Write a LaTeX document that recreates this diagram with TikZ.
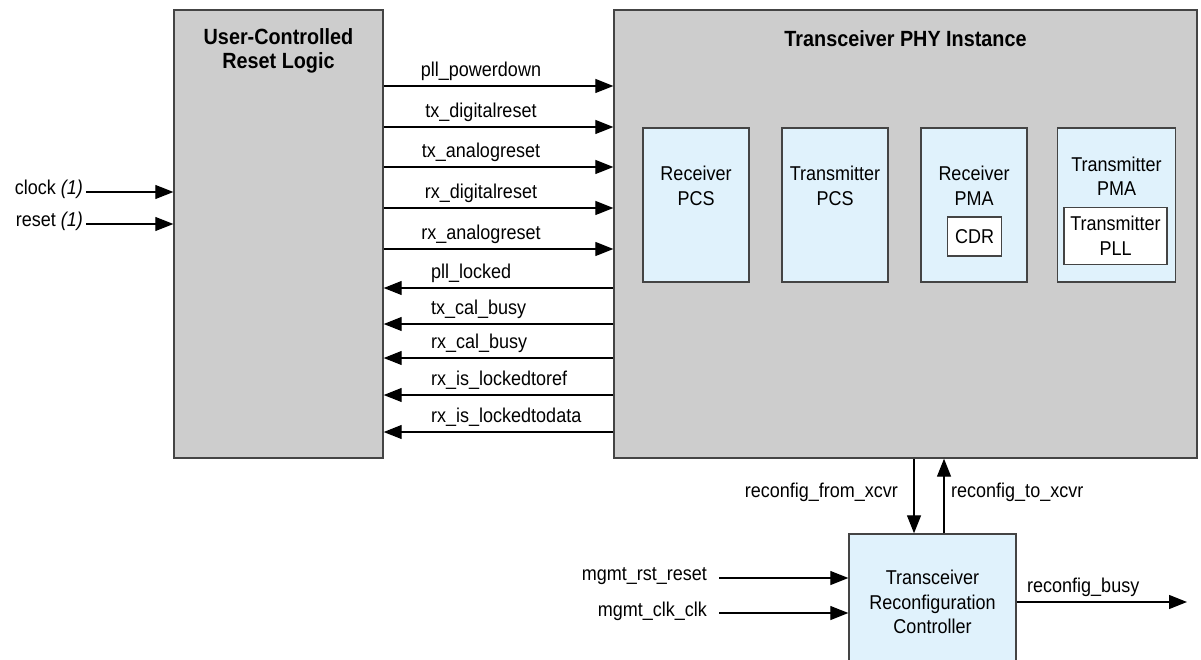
\documentclass[tikz,border=0pt]{standalone}
\usepackage{fontspec}
\setmainfont[FakeStretch=0.9]{Liberation Sans}
\usetikzlibrary{arrows.meta,positioning}
\definecolor{boxgray}{HTML}{CDCDCD}
\definecolor{boxblue}{HTML}{E0F2FC}
\definecolor{edge}{HTML}{444444}
\tikzset{
  every node/.style={font=\fontsize{20}{24.5}\selectfont, inner sep=0pt},
  bigbox/.style={draw=edge, line width=1.4pt, fill=boxgray},
  bluebox/.style={draw=edge, line width=1.4pt, fill=boxblue},
  whitebox/.style={draw=edge, line width=1.2pt, fill=white},
  sig/.style={line width=1.3pt, -{Triangle[length=18pt,width=14pt]}},
  lbl/.style={font=\fontsize{20}{23}\selectfont},
  ttl/.style={font=\fontsize{22}{24}\selectfont\bfseries, align=center},
}
\begin{document}
\begin{tikzpicture}[x=1pt,y=-1pt]
\useasboundingbox (0,0) rectangle (1201,660);
% main boxes
\node[bigbox, minimum width=209pt, minimum height=448pt] (L) at (278.5,234) {};
\node[ttl, anchor=center] (Lt) at (278.5,51) {User-Controlled\\Reset Logic};
\node[bigbox, minimum width=583pt, minimum height=448pt] (R) at (905.5,234) {};
\node[ttl, anchor=center] (Rt) at (905.5,39) {Transceiver PHY Instance};
% inner blocks
\node[bluebox, minimum width=106pt, minimum height=154pt] (rpcs) at (696,205) {};
\node[align=center] at (696,186) {Receiver\\PCS};
\node[bluebox, minimum width=106pt, minimum height=154pt] (tpcs) at (835,205) {};
\node[align=center] at (835,186) {Transmitter\\PCS};
\node[bluebox, minimum width=106pt, minimum height=154pt] (rpma) at (974,205) {};
\node[align=center] at (974,186) {Receiver\\PMA};
\node[whitebox, minimum width=54pt, minimum height=39pt] (cdr) at (974.5,236.5) {CDR};
\node[bluebox, minimum width=118pt, minimum height=154pt] (tpma) at (1116.5,205) {};
\node[align=center] at (1116.5,176.5) {Transmitter\\PMA};
\node[whitebox, minimum width=103pt, minimum height=57pt, align=center] (pll) at (1115.5,236) {Transmitter\\PLL};
% controller
\node[bluebox, minimum width=167pt, minimum height=130pt] (ctl) at (932.5,599) {};
\node[align=center] at (932.5,602) {Transceiver\\Reconfiguration\\Controller};
% inputs to reset logic
\coordinate (ck) at (86,192);
\coordinate (rs) at (86,224);
\node[anchor=east] (ckl) at (83,189) {clock \textit{(1)}};
\node[anchor=east] (rsl) at (83,221) {reset \textit{(1)}};
\draw[sig] (ck) -- (ck -| L.west);
\draw[sig] (rs) -- (rs -| L.west);
% forward signals
\foreach \y/\t in {86/pll\_powerdown,127/tx\_digitalreset,167/tx\_analogreset,208/rx\_digitalreset,249/rx\_analogreset}{
  \draw[sig] (L.east |- 0,\y) -- (R.west |- 0,\y);
  \node[lbl] at (481,\y-15) {\t};
}
% return signals
\foreach \y/\t in {288/pll\_locked,324/tx\_cal\_busy,358/rx\_cal\_busy,395/rx\_is\_lockedtoref,432/rx\_is\_lockedtodata}{
  \draw[sig] (R.west |- 0,\y) -- (L.east |- 0,\y);
  \node[lbl, anchor=west] at (431,\y-15) {\t};
}
% reconfig
\draw[sig] (R.south -| 914,0) -- (ctl.north -| 914,0);
\draw[sig] (ctl.north -| 944,0) -- (R.south -| 944,0);
\node[lbl, anchor=east] (rfx) at (898,492) {reconfig\_from\_xcvr};
\node[lbl, anchor=west] (rtx) at (951,492) {reconfig\_to\_xcvr};
% mgmt
\coordinate (mr) at (719,578);
\coordinate (mc) at (719,613);
\node[lbl, anchor=east] (mrl) at (707,576) {mgmt\_rst\_reset};
\node[lbl, anchor=east] (mcl) at (707,611) {mgmt\_clk\_clk};
\draw[sig] (mr) -- (mr -| ctl.west);
\draw[sig] (mc) -- (mc -| ctl.west);
\coordinate (busy) at (1187,602);
\draw[sig] (ctl.east |- busy) -- (busy);
\node[lbl, anchor=west] (bl) at (1027,587) {reconfig\_busy};
\end{tikzpicture}
\end{document}
